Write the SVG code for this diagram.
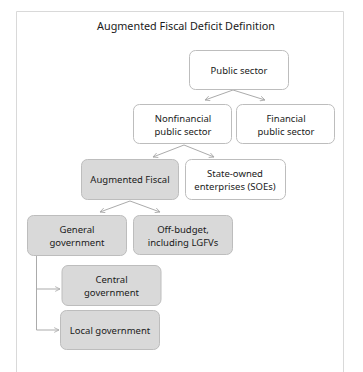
<svg xmlns="http://www.w3.org/2000/svg" width="363" height="372" viewBox="0 0 363 372">
<style>
text{font-family:"Noto Sans","Open Sans",sans-serif;font-size:9.5px;fill:#1a1a1a;text-anchor:middle}
.title{font-size:10.8px}
.w{fill:#ffffff;stroke:#bdbdbd;stroke-width:1}
.g{fill:#d9d9d9;stroke:#bdbdbd;stroke-width:1}
.c{fill:none;stroke:#ababab;stroke-width:1;marker-end:url(#ah)}
</style>
<defs>
<marker id="ah" viewBox="0 0 10 10" refX="9" refY="5" markerWidth="6" markerHeight="6" markerUnits="userSpaceOnUse" orient="auto">
<path d="M1,1 L9,5 L1,9" fill="none" stroke="#ababab" stroke-width="1.4"/>
</marker>
</defs>
<rect x="0" y="0" width="363" height="372" fill="#ffffff"/>
<path d="M16.5,373 V11.5 H343.5 V373" fill="none" stroke="#d9d9d9" stroke-width="1"/>
<text class="title" x="186" y="30">Augmented Fiscal Deficit Definition</text>
<g id="connectors">
<path class="c" d="M233,90 L205,100"/>
<path class="c" d="M233,90 L265,100"/>
<path class="c" d="M184,145 L153,157"/>
<path class="c" d="M184,145 L214,157"/>
<path class="c" d="M130,201 L100,212"/>
<path class="c" d="M130,201 L160,212"/>
<path class="c" d="M36.5,256 V289 H60"/>
<path class="c" d="M36.5,289 V330 H59"/>
</g>
<g id="public-sector">
<rect class="w" x="189.5" y="50.5" width="99" height="39" rx="6"/>
<text x="239" y="74">Public sector</text>
</g>
<g id="nonfinancial">
<rect class="w" x="133.5" y="104.5" width="98" height="39" rx="6"/>
<text x="183" y="122">Nonfinancial</text>
<text x="183" y="135">public sector</text>
</g>
<g id="financial">
<rect class="w" x="236.5" y="104.5" width="98" height="39" rx="6"/>
<text x="286" y="122">Financial</text>
<text x="286" y="135">public sector</text>
</g>
<g id="augmented-fiscal">
<rect class="g" x="81.5" y="159.5" width="97" height="40" rx="6"/>
<text x="130" y="183">Augmented Fiscal</text>
</g>
<g id="soes">
<rect class="w" x="185.5" y="159.5" width="100" height="40" rx="6"/>
<text x="235" y="177">State-owned</text>
<text x="235" y="190">enterprises (SOEs)</text>
</g>
<g id="general-government">
<rect class="g" x="27.5" y="215.5" width="99" height="40" rx="6"/>
<text x="77" y="233">General</text>
<text x="77" y="246">government</text>
</g>
<g id="off-budget">
<rect class="g" x="133.5" y="215.5" width="99" height="39" rx="6"/>
<text x="183" y="233">Off-budget,</text>
<text x="183" y="246">including LGFVs</text>
</g>
<g id="central-government">
<rect class="g" x="62" y="265.5" width="99" height="40" rx="6"/>
<text x="111.5" y="283">Central</text>
<text x="111.5" y="296">government</text>
</g>
<g id="local-government">
<rect class="g" x="60.5" y="310.5" width="99" height="39" rx="6"/>
<text x="110" y="334">Local government</text>
</g>
</svg>
